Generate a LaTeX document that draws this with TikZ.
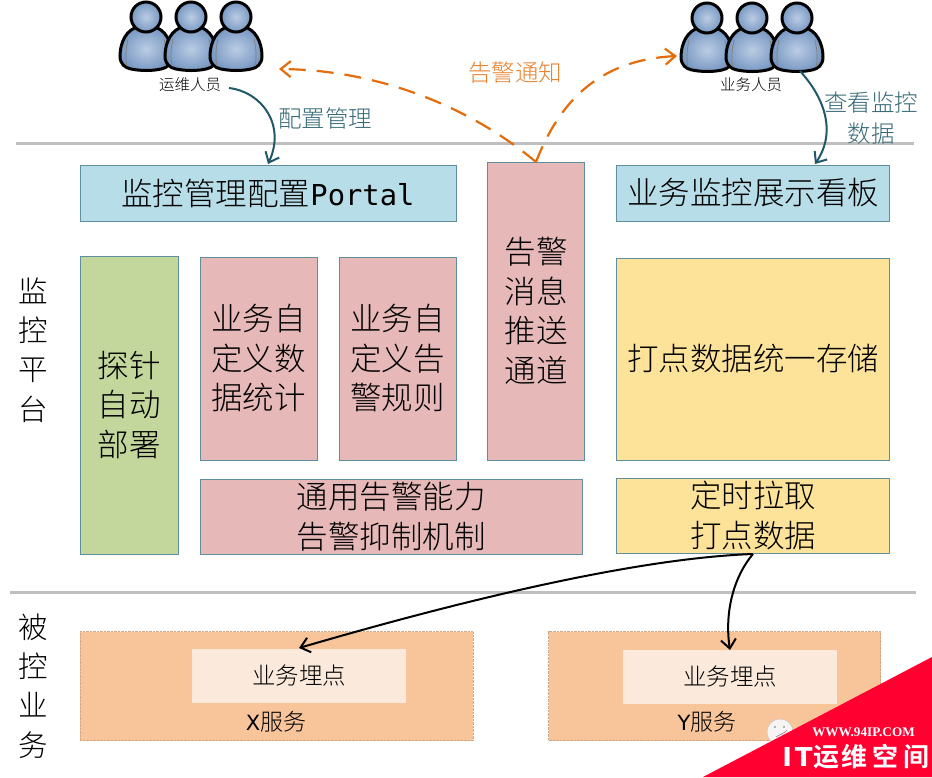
\documentclass[tikz,border=0pt]{standalone}
\usepackage{fontspec}
\setmainfont{Noto Sans CJK SC}[UprightFont=* Light,BoldFont=* Bold]
\newfontfamily\lat{DejaVu Sans}
\newfontfamily\monoish{DejaVu Sans Mono}
\newfontfamily\serifb{Liberation Serif}
\usetikzlibrary{arrows.meta}
\definecolor{bluebox}{HTML}{B7DEE8}
\definecolor{redbox}{HTML}{E6B8B7}
\definecolor{greenbox}{HTML}{C3D69B}
\definecolor{yellowbox}{HTML}{FDE299}
\definecolor{orangebox}{HTML}{F8C49A}
\definecolor{innerbox}{HTML}{FBEADC}
\definecolor{edgec}{HTML}{5F8F9F}
\definecolor{teal}{HTML}{215968}
\definecolor{orangeline}{HTML}{E46C0A}
\definecolor{personin}{HTML}{BBCCE4}
\definecolor{personout}{HTML}{7898C2}
\definecolor{ribbon}{HTML}{FF0030}
\tikzset{
 x=1pt,y=-1pt,
 box/.style={draw=edgec,line width=0.9pt,inner sep=0pt,align=center,font=\fontsize{31.5}{39.5}\selectfont,text=black},
 sepline/.style={draw=black!25,line width=3pt},
 tealarrow/.style={draw=teal,line width=2pt,-{Straight Barb[length=9pt,width=15pt,line width=2pt]}},
 orangearrow/.style={draw=orangeline,line width=2.2pt,dash pattern=on 17pt off 11pt,-{Straight Barb[length=10pt,width=16pt,line width=2.2pt]}},
 blackarrow/.style={draw=black,line width=2pt,-{Straight Barb[length=9pt,width=15pt,line width=2pt]}},
 lab/.style={inner sep=0pt,font=\fontsize{23.5}{31}\selectfont,text=black},
 teallab/.style={inner sep=0pt,align=center,font=\fontsize{23.5}{31}\selectfont,text=teal!90!white},
 small/.style={inner sep=0pt,font=\fontsize{15.5}{15.5}\selectfont,text=black},
 side/.style={inner sep=0pt,align=center,font=\fontsize{29.5}{39.3}\selectfont,text=black},
}
\newcommand{\boxat}[7]{\node[box,fill=#6,minimum width=#4pt,minimum height=#5pt] (#1) at (#2,#3) {#7};}
\newcommand{\oneperson}[2]{%
 \begin{scope}[shift={(#1,#2)}]
  \fill[draw=black,line width=3pt,inner color=personin,outer color=personout]
   (-8,-9) .. controls (-19,-7) and (-26,6) .. (-26,20)
   .. controls (-26,28) and (-21,32) .. (-15,33)
   .. controls (-5,35) and (6,35) .. (15,33)
   .. controls (21,32) and (26,28) .. (26,20)
   .. controls (26,6) and (19,-7) .. (8,-9) -- cycle;
  \draw[black!50,line width=0.7pt] (-18,3) .. controls (-20,12) and (-21,22) .. (-19,30);
  \draw[black!50,line width=0.7pt] (18,3) .. controls (20,12) and (21,22) .. (19,30);
  \fill[draw=black,line width=3pt,inner color=personin,outer color=personout] (0,-19) circle (15);
 \end{scope}}
\begin{document}
\begin{tikzpicture}
\useasboundingbox (0,0) rectangle (932,777);
\fill[white] (0,0) rectangle (932,777);
% separators
\coordinate (s1a) at (16,143); \coordinate (s1b) at (914,143);
\coordinate (s2a) at (10,592); \coordinate (s2b) at (916,592);
\draw[sepline] (s1a) -- (s1b);
\draw[sepline] (s2a) -- (s2b);
% people
\oneperson{146}{36}\oneperson{191}{36}\oneperson{236}{36}
\oneperson{707}{37}\oneperson{752}{37}\oneperson{797}{37}
\node[small] (ops) at (190,85) {运维人员};
\node[small] (biz) at (751,85) {业务人员};
\coordinate (opsout) at (229,88);
\coordinate (bizout) at (800,71);
\coordinate (opsl) at (279,69);
\coordinate (bizr) at (677,56);
% boxes
\boxat{portal}{268}{193}{376}{56}{bluebox}{监控管理配置{\monoish\fontsize{28.8}{39.5}\selectfont Portal}}
\boxat{board}{753}{193}{273}{56}{bluebox}{业务监控展示看板}
\boxat{push}{536}{311}{97}{298}{redbox}{告警\\消息\\推送\\通道}
\boxat{probe}{129}{405}{98}{298}{greenbox}{探针\\自动\\部署}
\boxat{stat}{258.5}{358.5}{117}{203}{redbox}{业务自\\定义数\\据统计}
\boxat{rule}{397.5}{358.5}{117}{203}{redbox}{业务自\\定义告\\警规则}
\boxat{store}{753}{359}{273}{202}{yellowbox}{打点数据统一存储}
\boxat{alarm}{391}{516.5}{382}{75}{redbox}{通用告警能力\\告警抑制机制}
\boxat{pull}{753}{515.5}{273}{75}{yellowbox}{定时拉取\\打点数据}
% services
\node[draw=orangebox!85!black,densely dotted,line width=0.4pt,fill=orangebox,minimum width=393pt,minimum height=109pt,inner sep=0pt] (svcx) at (276.5,686) {};
\node[draw=orangebox!85!black,densely dotted,line width=0.4pt,fill=orangebox,minimum width=332pt,minimum height=109pt,inner sep=0pt] (svcy) at (714.5,686) {};
\node[fill=innerbox,minimum width=214pt,minimum height=54pt,inner sep=0pt,font=\fontsize{23.5}{26}\selectfont,text=black] (px) at (299,676) {业务埋点};
\node[fill=innerbox,minimum width=214pt,minimum height=54pt,inner sep=0pt,font=\fontsize{23.5}{26}\selectfont,text=black] (py) at (730,677) {业务埋点};
\node[lab,font=\fontsize{23}{26}\selectfont] (xs) at (276,722) {{\lat\fontsize{21}{26}\selectfont X}服务};
\node[lab,font=\fontsize{23}{26}\selectfont] (ys) at (707,722) {{\lat\fontsize{21}{26}\selectfont Y}服务};
% side labels
\node[side] (mon) at (33,350) {监\\控\\平\\台};
\node[side] (svc) at (33,686) {被\\控\\业\\务};
% arrow labels
\node[teallab] (cfg) at (325,119) {配置管理};
\node[teallab] (view) at (871,118) {查看监控\\数据};
\node[lab,text=orangeline!85!white] (notify) at (515,73) {告警通知};
% arrows
\coordinate (pushtop) at (536,162);
\draw[tealarrow] (opsout) .. controls (262,92) and (286,125) .. (268,164);
\draw[tealarrow] (bizout) .. controls (822,95) and (838,130) .. (815,164);
\draw[orangearrow] (pushtop) .. controls (480,115) and (390,70) .. (opsl);
\draw[orangearrow] (pushtop) .. controls (560,100) and (600,60) .. (bizr);
\coordinate (pullout) at (753,554);
\draw[blackarrow] (pullout) .. controls (640,558) and (470,598) .. (299,648);
\draw[blackarrow] (pullout) .. controls (735,575) and (724,610) .. (730,650);
% watermark
\fill[white!96!black,draw=black!25,line width=0.3pt] (780,732) circle (13);
\fill[black!55] (775,727) circle (0.9) (784,727) circle (0.9);
\draw[black!50,line width=0.6pt] (776,737) .. controls (780,734) and (784,734) .. (787,730);
\fill[ribbon] (703,777) -- (932,657) -- (932,777) -- cycle;
\node[inner sep=0pt,text=white,font=\serifb\bfseries\fontsize{13.2}{13.2}\selectfont] (site) at (863.5,732) {WWW.94IP.COM};
\node[inner sep=0pt,text=white,font=\bfseries\fontsize{26}{26}\selectfont] (brand) at (856,757) {{\lat I\hspace{3pt}T}\hspace{1pt}运\hspace{2pt}维\hspace{5pt}空\hspace{5pt}间};
\end{tikzpicture}
\end{document}
